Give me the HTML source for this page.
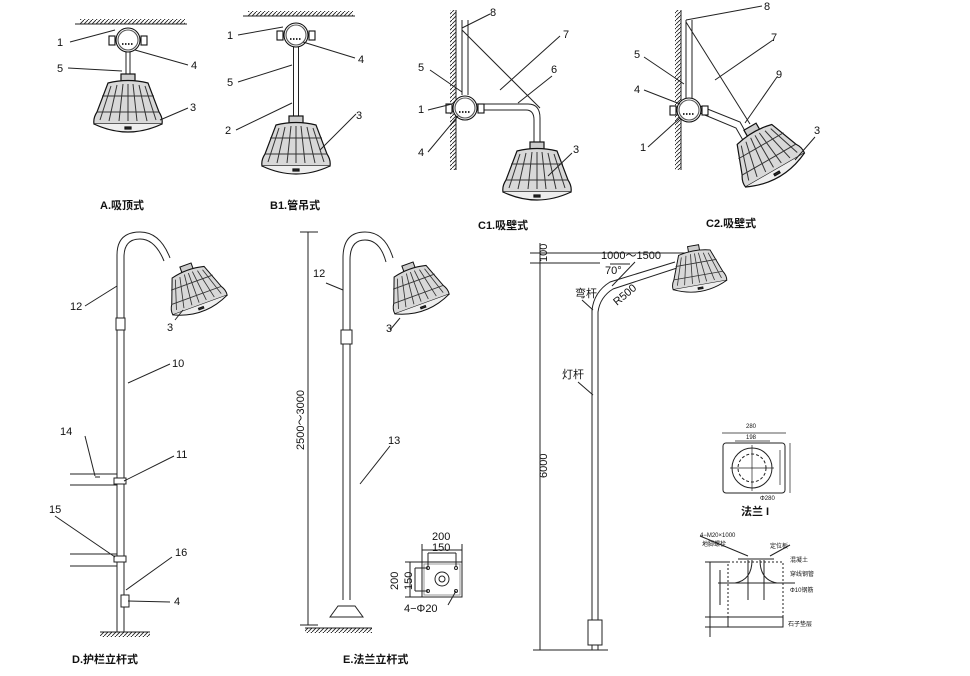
<!DOCTYPE html>
<html><head><meta charset="utf-8"><style>
html,body{margin:0;padding:0;background:#fff}
svg{display:block}
text{font-family:"Liberation Sans","Noto Sans CJK SC",sans-serif;fill:#111}
.l{font-size:11px}
.c{font-size:11px;font-weight:bold}
</style></head><body>
<svg width="970" height="676" viewBox="0 0 970 676" xmlns="http://www.w3.org/2000/svg">
<defs>
<pattern id="h" width="4" height="4" patternUnits="userSpaceOnUse"><line x1="0" y1="4" x2="4" y2="0" stroke="#222" stroke-width="0.9"/></pattern>
<g id="lamp" fill="none" stroke="#111" stroke-width="1.2">
<rect x="-7" y="-50" width="14" height="9" fill="#ccc"/>
<path d="M-20,-41 Q0,-46 20,-41 L31,-12 Q35,-6 34,0 L-34,0 Q-35,-6 -31,-12 Z" fill="#d8d8d8"/>
<path d="M-34,0 Q0,16 34,0" fill="#eee"/>
<path d="M-17,-38 L-28,-4 M-11,-39 L-19,-3 M-5,-40 L-9,-3 M0,-40 L0,-3 M5,-40 L9,-3 M11,-39 L19,-3 M17,-38 L28,-4 M-31,-12 L31,-12 M-26,-28 L26,-28" stroke="#333" stroke-width="1"/>
<rect x="-3" y="3" width="6" height="2" fill="#333"/>
</g>
<g id="box" fill="#fff" stroke="#111" stroke-width="1.1">
<rect x="-19" y="-4" width="6" height="9"/><rect x="13" y="-4" width="6" height="9"/>
<circle r="12"/><circle r="10" fill="none" stroke="#555"/>
<path d="M-6,4 L6,4" stroke="#333" stroke-dasharray="1.5 1.5" stroke-width="2"/>
</g>
</defs>
<g stroke="#222" fill="none" stroke-width="1">
<!-- A -->
<line x1="75" y1="24" x2="187" y2="24"/><rect x="80" y="19" width="105" height="5" fill="url(#h)" stroke="none"/>
<line x1="128" y1="50" x2="128" y2="82" stroke-width="5"/><line x1="128" y1="50" x2="128" y2="82" stroke="#fff" stroke-width="3"/>
<use href="#box" x="128" y="40"/><use href="#lamp" x="128" y="124"/>
<path d="M70,42 L115,30 M68,68 L122,71 M135,50 L188,65 M160,120 L188,108"/>
<!-- B1 -->
<line x1="243" y1="16" x2="355" y2="16"/><rect x="248" y="11" width="105" height="5" fill="url(#h)" stroke="none"/>
<line x1="296" y1="47" x2="296" y2="127" stroke-width="6"/><line x1="296" y1="47" x2="296" y2="127" stroke="#fff" stroke-width="4"/>
<use href="#box" x="296" y="35"/><use href="#lamp" x="296" y="166"/>
<path d="M238,35 L283,27 M238,82 L292,65 M236,130 L292,103 M303,42 L355,58 M320,150 L356,114"/>
<!-- C1 -->
<line x1="456" y1="10" x2="456" y2="170"/><rect x="450" y="10" width="6" height="160" fill="url(#h)" stroke="none"/>
<path d="M462,20 L462,95 M468,20 L468,95" />
<path d="M476,104 L528,104 Q540,104 540,118 L540,150 M476,110 L526,110 Q534,110 534,120 L534,150"/>
<line x1="462" y1="30" x2="540" y2="108"/>
<use href="#box" x="465" y="108"/><use href="#lamp" x="537" y="192"/>
<path d="M462,28 L490,14 M430,70 L462,92 M428,110 L452,104 M428,152 L458,116 M500,90 L560,36 M518,103 L552,76 M548,176 L572,153"/>
<!-- C2 -->
<line x1="681" y1="10" x2="681" y2="170"/><rect x="675" y="10" width="6" height="160" fill="url(#h)" stroke="none"/>
<path d="M686,20 L686,98 M692,20 L692,98"/>
<path d="M700,106 L740,122 L750,140 M700,113 L736,128 L744,142"/>
<line x1="686" y1="22" x2="750" y2="124"/>
<use href="#box" x="689" y="110"/><use href="#lamp" transform="translate(775,170) rotate(-30)"/>
<path d="M686,20 L762,6 M644,57 L684,84 M644,90 L680,104 M648,147 L680,118 M715,80 L773,40 M745,123 L777,77 M795,160 L815,137"/>
<!-- D -->
<path d="M117,632 L117,255 Q117,232 140,232 Q160,232 170,258 M124,632 L124,257 Q124,239 140,239 Q155,239 164,261"/>
<rect x="116" y="318" width="9" height="12" fill="#fff"/>
<use href="#lamp" transform="translate(200,305) rotate(-20) scale(0.85)"/>
<path d="M70,474 L117,474 M70,485 L117,485 M70,554 L117,554 M70,566 L117,566"/>
<rect x="114" y="478" width="12" height="6" fill="#fff"/><rect x="114" y="556" width="12" height="6" fill="#fff"/>
<rect x="121" y="595" width="8" height="12" fill="#fff"/>
<line x1="100" y1="632" x2="150" y2="632"/><rect x="100" y="632" width="50" height="5" fill="url(#h)" stroke="none"/>
<path d="M85,306 L117,286 M128,383 L170,364 M95,477 L100,477 M85,436 L95,476 M124,481 L174,456 M55,516 L115,557 M126,590 L172,557 M128,601 L170,602 M175,320 L183,310"/>
<!-- E -->
<path d="M343,600 L343,258 Q343,232 365,232 Q385,232 393,258 M350,600 L350,260 Q350,240 365,240 Q380,240 386,262"/>
<rect x="341" y="330" width="11" height="14" fill="#fff"/>
<use href="#lamp" transform="translate(422,304) rotate(-20) scale(0.85)"/>
<path d="M330,617 L338,606 L355,606 L363,617 Z" fill="#fff"/>
<line x1="305" y1="628" x2="372" y2="628"/><rect x="305" y="628" width="67" height="5" fill="url(#h)" stroke="none"/>
<path d="M308,232 L308,625 M300,232 L318,232 M300,625 L318,625"/>
<path d="M326,283 L343,290 M360,484 L390,446 M390,330 L400,318"/>
<!-- E flange -->
<rect x="422" y="562" width="40" height="35"/><rect x="424" y="564" width="36" height="31" stroke="#999"/>
<circle cx="442" cy="579" r="7"/><circle cx="442" cy="579" r="3"/>
<circle cx="428" cy="568" r="1.5"/><circle cx="456" cy="568" r="1.5"/><circle cx="428" cy="591" r="1.5"/><circle cx="456" cy="591" r="1.5"/>
<path d="M422,544 L422,562 M462,544 L462,562 M422,550 L462,550 M428,553 L456,553 M428,553 L428,566 M456,553 L456,566 M405,562 L422,562 M405,597 L422,597 M410,562 L410,597 M415,568 L428,568 M415,591 L428,591 M415,568 L415,591 M456,591 L448,605"/>
<!-- F -->
<path d="M530,253 L690,253 M530,263 L600,263 M540,243 L540,650 M533,650 L600,650"/>
<path d="M592,650 L592,310 Q594,292 610,282 L675,262 M598,650 L598,312 Q600,297 613,289 L677,268"/>
<rect x="588" y="620" width="14" height="25" fill="#fff"/><path d="M582,650 L608,650"/>
<use href="#lamp" transform="translate(700,285) rotate(-10) scale(0.8)"/>
<path d="M612,286 L635,262 M610,264 L630,264 M582,300 L593,310 M578,382 L593,395"/>
<!-- flange I -->
<rect x="723" y="443" width="62" height="50" rx="3"/>
<circle cx="752" cy="468" r="20"/><circle cx="752" cy="468" r="14" stroke-dasharray="3 2"/>
<path d="M722,433 L786,433 M735,441 L770,441 M790,443 L790,493 M780,450 L780,485 M752,445 L752,491 M730,468 L774,468" stroke-width="0.7"/>
<!-- foundation -->
<rect x="728" y="562" width="55" height="55" stroke-dasharray="2 2"/>
<rect x="728" y="617" width="55" height="10"/>
<path d="M738,559 L774,559 M748,560 L748,600 M764,560 L764,600 M752,560 Q752,580 735,583 M760,560 Q760,580 777,583 M718,583 L795,583 M705,562 L728,562 M705,617 L728,617 M705,627 L728,627 M710,562 L710,637 M720,570 L720,605 M700,536 L748,556 M770,556 L790,545"/>
</g>
<g class="l">
<text x="57" y="46">1</text><text x="57" y="72">5</text><text x="191" y="69">4</text><text x="190" y="111">3</text>
<text x="227" y="39">1</text><text x="227" y="86">5</text><text x="225" y="134">2</text><text x="358" y="63">4</text><text x="356" y="119">3</text>
<text x="490" y="16">8</text><text x="563" y="38">7</text><text x="551" y="73">6</text><text x="418" y="71">5</text><text x="418" y="113">1</text><text x="418" y="156">4</text><text x="573" y="153">3</text>
<text x="764" y="10">8</text><text x="771" y="41">7</text><text x="776" y="78">9</text><text x="634" y="58">5</text><text x="634" y="93">4</text><text x="640" y="151">1</text><text x="814" y="134">3</text>
<text x="70" y="310">12</text><text x="167" y="331">3</text><text x="172" y="367">10</text><text x="60" y="435">14</text><text x="176" y="458">11</text><text x="49" y="513">15</text><text x="175" y="556">16</text><text x="174" y="605">4</text>
<text x="313" y="277">12</text><text x="386" y="332">3</text><text x="388" y="444">13</text>
<text x="432" y="540">200</text><text x="432" y="551">150</text><text x="404" y="612">4−Φ20</text>
<text transform="translate(398,590) rotate(-90)">200</text><text transform="translate(412,590) rotate(-90)">150</text>
<text x="601" y="259">1000～1500</text><text x="605" y="274">70°</text><text x="575" y="297">弯杆</text><text x="562" y="378">灯杆</text>
<text transform="translate(617,306) rotate(-40)">R500</text>
<text transform="translate(547,262) rotate(-90)">100</text><text transform="translate(547,478) rotate(-90)">6000</text>
<text transform="translate(304,450) rotate(-90)">2500～3000</text>
</g>
<g style="font-size:6px">
<text x="746" y="428">280</text><text x="746" y="439">198</text><text x="760" y="500">Φ280</text>
<text x="700" y="537">4−M20×1000</text><text x="702" y="546">地脚螺栓</text><text x="770" y="548">定位板</text><text x="790" y="562">混凝土</text><text x="790" y="576">穿线钢管</text><text x="790" y="592">Φ10钢筋</text><text x="788" y="626">石子垫层</text>
</g>
<g class="c">
<text x="100" y="209">A.吸顶式</text><text x="270" y="209">B1.管吊式</text><text x="478" y="229">C1.吸壁式</text><text x="706" y="227">C2.吸壁式</text>
<text x="72" y="663">D.护栏立杆式</text><text x="343" y="663">E.法兰立杆式</text><text x="741" y="515">法兰 I</text>
</g>
</svg>
</body></html>
